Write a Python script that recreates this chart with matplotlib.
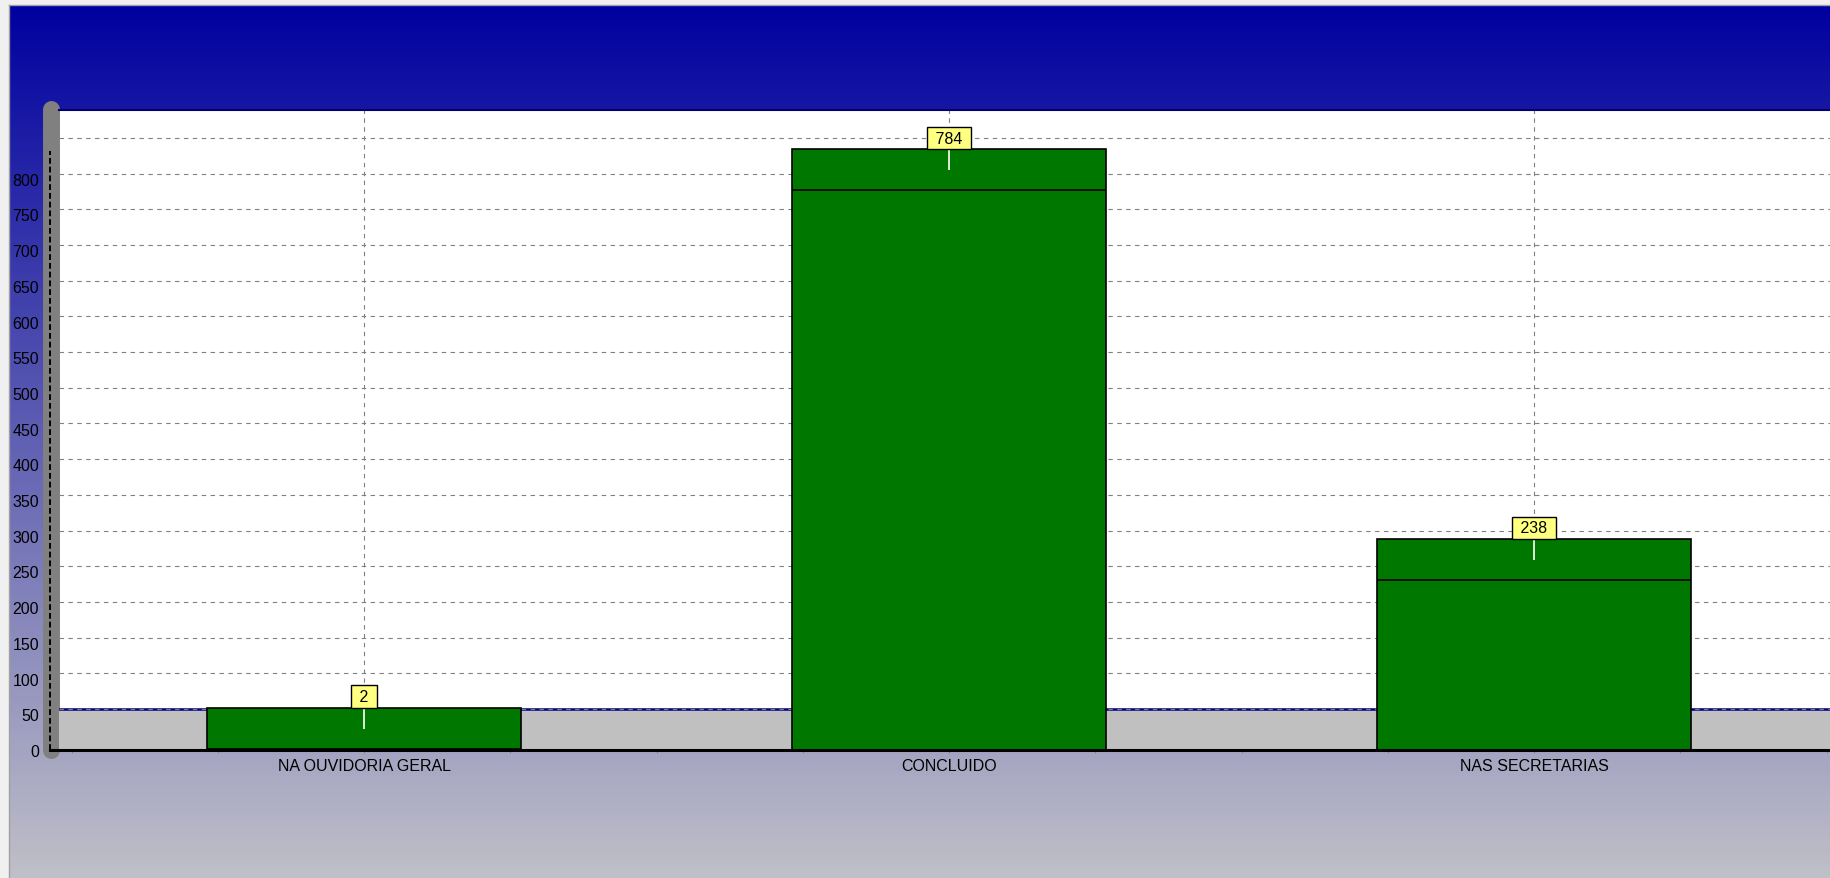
import numpy as np
import matplotlib.pyplot as plt
from matplotlib.lines import Line2D

# dados do gráfico
categorias = ["NA OUVIDORIA GERAL", "CONCLUIDO", "NAS SECRETARIAS"]
valores = [2, 784, 238]
ticks_y = list(range(0, 801, 50))

W, H = 1831, 879
PX = 0.714          # pixels por unidade no eixo y
PROF = 41 / PX      # profundidade do efeito 3D (em unidades)
Y_TOPO = 640 / PX

plt.rcParams['font.family'] = ['Liberation Sans', 'DejaVu Sans']
FS = 11.5

fig = plt.figure(figsize=(W / 100, H / 100), dpi=100, facecolor='#f0f0f0')

# fundo em degradê azul -> cinza
bg = fig.add_axes([9 / W, 0, (W - 9) / W, (H - 6) / H])
t = np.linspace(0, 1, 256)[:, None, None]
topo = np.array([0, 0, 160]) / 255
base = np.array([192, 192, 200]) / 255
grad = topo + t * (base - topo)
bg.imshow(grad, aspect='auto', extent=[0, 1, 0, 1])
bg.axis('off')

# bordas da janela
fig.add_artist(Line2D([9 / W, 9 / W], [0, (H - 6) / H], transform=fig.transFigure, color='#a0a0a0', lw=1))
fig.add_artist(Line2D([9 / W, 1], [(H - 6) / H, (H - 6) / H], transform=fig.transFigure, color='#a0a0a0', lw=1))

# área do gráfico (parede do fundo)
ax = fig.add_axes([59 / W, (H - 751) / H, (W - 59) / W, 640 / H])
ax.set_facecolor('white')
xmin, xmax = (59 - 364) / 585, (W - 364) / 585
ax.set_xlim(xmin, xmax)
ax.set_ylim(0, Y_TOPO)

x = np.arange(len(categorias))
v = np.array(valores)

# piso
ax.axhspan(0, PROF, color='#c0c0c0', zorder=1)
ax.axhline(PROF, color='#000080', lw=1.8, zorder=1.5)

# grade
for g in ticks_y:
    ax.axhline(g + PROF, color='#808080', ls=(0, (4, 4)), lw=0.8, zorder=2)
ax.vlines(x, PROF, Y_TOPO, color='#808080', ls=(0, (4, 4)), lw=0.8, zorder=2)

# barras 3D (frente + topo)
largura = 0.538
ax.bar(x, v + PROF, width=largura, color='#007800', edgecolor='black', linewidth=1.2, zorder=3)
ax.hlines(v, x - largura / 2, x + largura / 2, color='black', lw=1.2, zorder=4)

# marcas
ax.vlines(x, v + PROF - 21 / PX, v + PROF, color='white', lw=1.2, zorder=5)
for xi, vi in zip(x, v):
    ax.annotate(f' {vi} ', (xi, vi + PROF), xytext=(0, 2.6), textcoords='offset points',
                ha='center', va='bottom', fontsize=FS, zorder=6,
                bbox=dict(boxstyle='square,pad=0.24', fc='#ffff80', ec='black', lw=1))

# parede lateral e eixo da frente
xw = (50.5 - 364) / 585
ax.plot([xw, xw], [0, Y_TOPO + 1 / PX], color='#808080', lw=12.2, solid_capstyle='round', clip_on=False, zorder=0.5)
xf = (49.5 - 364) / 585
ax.plot([xf, xf], [0, Y_TOPO - PROF], color='black', ls=(0, (3, 1.5)), lw=1.4, clip_on=False, zorder=5)
ax.plot([xf, xmax], [0, 0], color='black', lw=2.2, clip_on=False, zorder=5)

# eixos
for s in ['left', 'right', 'bottom']:
    ax.spines[s].set_visible(False)
ax.spines['top'].set_color('#00006e')
ax.spines['top'].set_linewidth(1.5)

ax.set_yticks(ticks_y)
ax.tick_params(axis='y', length=0, pad=14.4, labelsize=FS, labelcolor='black')
ax.set_xticks(x, categorias)
ax.set_xticks([m for m in np.arange(-0.5, 2.51, 0.25) if m % 1 != 0], minor=True)
ax.tick_params(axis='x', which='both', length=2.5, color='#808080', pad=3.6, labelsize=FS, labelcolor='black')

plt.savefig('out.png', dpi=100, facecolor=fig.get_facecolor())
